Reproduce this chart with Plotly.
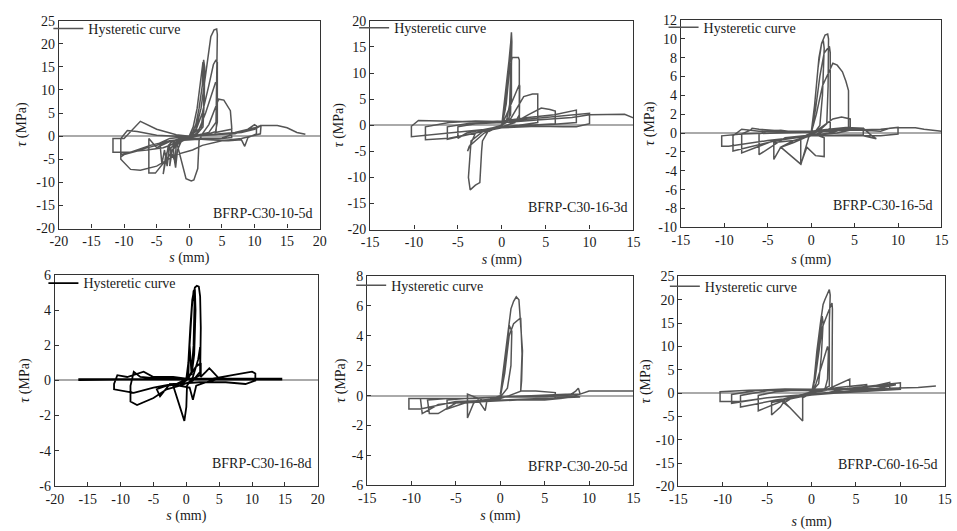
import plotly.graph_objects as go

# ---------------- data (s in mm, tau in MPa) ----------------
labels = ["BFRP-C30-10-5d", "BFRP-C30-16-3d", "BFRP-C30-16-5d",
          "BFRP-C30-16-8d", "BFRP-C30-20-5d", "BFRP-C60-16-5d"]
series_name = "Hysteretic curve"

path1 = [(0,0),(0.5,0.8),(1.0,2.5),(1.5,6),(2.0,11),(2.2,16.5),(2.35,15),(2.3,8),(2.1,2),(1.2,0.5),(0,0),
(-1,-0.3),(-2,-0.8),(-2.5,-1.5),(-2.3,-5),(-2.1,-6.8),(-1.8,-3),(-1.2,-1),(0,0),
(0.6,2),(1.2,6),(1.8,12),(2.1,16),(2.25,13),(2.2,6),(1.8,1.5),(0.8,0.3),(-0.5,-0.3),(-1.5,-1),(-2.8,-2.5),(-3,-6.5),(-2.6,-3),(-1.5,-0.8),(0,0),
(1,1.5),(1.8,6),(2.4,12),(2.9,17.5),(3.3,21.5),(3.8,23),(4.2,23.2),(4.3,22),(4.2,12),(4.1,3),(3,0.8),(1,0.2),(-1,-0.5),
(-2.5,-1),(-3.2,-2),(-4,-8.2),(-3.6,-4),(-3,-2.5),(-2.2,-5.5),(-2,-2),(-1,-0.5),(0,0),
(1,1.2),(2,5),(3,11),(3.7,15.5),(4.1,16.5),(4.3,16),(4.3,5),(4.1,1),(3,0.5),(1,0),(-1,-0.6),(-3,-1.2),(-5,-2.5),(-6.2,-0.5),(-6.2,-8),(-5.2,-8),(-3.5,-5),(-2,-2),(-0.5,-0.5),(0,0),
(1.5,1.5),(2.5,5),(3.5,9.5),(4,11.5),(4.3,11.2),(4.3,3),(4,0.8),(6.5,1.5),(6.5,-0.3),(5,-0.5),(2,-0.6),(0,-0.8),
(-2,-1),(-0.5,-9.2),(0.3,-9.7),(0.7,-9.5),(1.3,-7),(1.5,-1),(2,0.5),(3,2.5),(4.5,8),(5.3,7.8),(6.3,5.5),(6.5,2),(6.5,0.3),(5,-0.4),
(3,-0.5),(0,-0.5),(-2,-1.5),(-4,-2.5),(-6.5,-3),(-8,-3.2),(-10,-4),(-10.5,-4.5),(-10.5,-0.5),(-9.5,1.2),(-8,1),(-5,0.2),(-2,0),
(0,0),(3,0.3),(7,0.5),(9,1.5),(10,2.5),(10.3,2.2),(10.3,0.5),(9,-0.3),(8.5,-2.2),(8,-0.8),(6,-1),(3,-0.8),(0,-0.5),
(-3,-1),(-6,-2),(-9,-3.5),(-11.7,-3.5),(-11.7,-0.5),(-10,-0.5),(-7.5,3.2),(-5,1.5),(-2,0.3),(0,0),
(-3,-0.5),(-4.5,-1.5),(-4.2,-6),(-3.8,-3),(-3.4,-6.5),(-3,-2),(-1,-0.6),(0,0),
(4,0.3),(8,0.8),(10,1.5),(11,2.3),(10.9,0.5),(8,-0.5),(5,-1),(2,-2),(0.5,-3),(-2,-4),(-5,-6.5),(-7.5,-7.4),(-9,-7.2),(-10.5,-5),(-10.5,-4),(-9,-3.5),(-5,-2),(-2,-0.8),(0,0),
(3,0.3),(7,0.8),(10,1.8),(11,2.3),(12.5,2.3),(13.5,2.3),(15,1.8),(16.5,0.8),(17.8,0.4)]

path2 = [(0,0),(0.4,3),(0.7,8),(0.9,13),(1.0,16),(1.1,17.8),(1.15,16),(1.1,8),(1,2),(0.5,0.5),(-0.5,-0.3),(-1,-0.8),(-1.5,-1.2),(-1,-0.5),(0,0),
(0.3,3),(0.7,10),(1.0,15.5),(1.1,14),(1.1,5),(0.8,1),(-0.5,-0.5),(-1.2,-1),(0,0),
(0.2,3),(0.5,8),(0.8,12),(1.0,14.5),(1.05,12),(0.9,4),(0.5,0.5),(0,0),
(0.5,4),(0.9,11),(1.2,13),(1.9,13),(2,12.5),(2,2),(1.5,0.5),(0,-0.3),(-1,-0.8),(-2,-1.5),(-3.7,-4),(-3.9,-5),(-3,-1.5),(-1,-0.5),(0,0),
(0.8,3),(1.5,6),(2,7.8),(2.05,7.5),(2,1),(1,0.3),(0,-0.5),(-2,-1),(-3.5,-3),(-3.8,-10),(-3.6,-12.4),(-3,-11.5),(-2.5,-11),(-2.3,-5),(-2.2,-3),(-1.5,-1),(0,0),
(1,1.2),(2.5,5.5),(3.5,6),(4.1,6),(4.1,3),(4.1,0.5),(2,0),(-1,-0.5),(-4,-1.5),(-5,-2.5),(-5,-0.3),(-3,0.3),(0,0.5),
(2,1),(3,2),(4.5,3.3),(5.5,3),(6.1,2.7),(6.1,0.3),(3,0),(0,-0.3),(-3,-1.5),(-6.2,-2.7),(-6.2,-0.3),(-4,0.3),(-1,0.7),(0,0.8),
(3,1.5),(6,2),(8.5,2.9),(8.5,0.5),(6,0.2),(3,0),(0,-0.5),(-3,-1.5),(-6,-2.5),(-8.7,-2.8),(-8.7,-0.3),(-6,0.5),(-3,0.8),(0,0.7),
(4,1.3),(8,2),(10,2.3),(10,0.3),(8.5,-0.3),(7,-0.3),(4,-0.2),(0,-0.5),(-4,-1.2),(-8,-1.8),(-9.5,-2.2),(-10.3,-2.2),(-10.3,-0.2),(-9.5,0.9),(-7,0.8),(-3,0.6),(0,0.5),
(4,1),(8,1.5),(10,2),(12,2),(14,2.1),(15,1.4)]

path3 = [(0,0),(0.3,2),(0.6,5),(0.9,8),(1.2,9.5),(1.4,9.8),(1.5,9),(1.3,4),(1,0.8),(0.5,0.2),(-0.5,-0.2),(-1,-0.5),(0,0),
(0.4,3),(0.8,7),(1.2,9.5),(1.6,10.4),(1.9,10.5),(2.0,10),(1.95,5),(1.8,1),(1,0.3),(0,-0.2),(-1.2,-0.5),(-1.2,-3.4),(-0.8,-2),(-0.3,-0.5),(0,0),
(0.5,2.5),(1,6),(1.5,8.5),(2.1,9.2),(2.2,8.5),(2.2,4),(2.2,0.5),(1,0),(0,-0.3),(-2,-0.8),(-3.5,-1.5),(-1.2,-3.3),(-0.5,-1.5),(0.5,-2.4),(1.5,-2.5),(1.5,-0.5),(0,0),
(0.6,2),(1.3,5),(2.5,7.4),(3,7.2),(3.6,6.5),(4,5.5),(4.3,4.5),(4.3,1.5),(4.3,0.5),(2,0),(0,-0.3),(-2,-0.8),(-4.3,-1),(-4.3,-2.8),(-3.5,-1.5),(-2,-1),(0,-0.2),
(1,0.5),(2.5,1.5),(3.5,1.7),(4.5,1.5),(4.5,0.3),(3,0),(0,-0.2),(-3,-0.5),(-6,-2.3),(-6,-0.1),(-5,0.2),(-3.5,0.3),(-2,0.1),(0,0.2),
(2,0.4),(4,0.6),(6,0.5),(6,-0.2),(4,-0.2),(0,-0.3),(-4,-0.7),(-8,-2.1),(-8,-0.1),(-7,0.3),(-6.8,0.5),(-6,0.4),(-3,0.2),(0,0.2),
(3,0.4),(6,0.5),(7,-0.3),(7.5,-0.6),(6,-0.3),(3,-0.3),(0,-0.3),(-4,-0.8),(-9,-1.9),(-9,-0.3),(-8,0.4),(-6,0.2),(-3,0.1),(0,0.2),
(3,0.3),(6,0.3),(8,0.2),(9,0.5),(10,0.6),(10,-0.1),(8,-0.3),(4,-0.3),(0,-0.3),(-5,-0.8),(-9.5,-1.4),(-10.3,-1.4),(-10.3,-0.3),(-8,-0.1),(-4,0),(0,0.1),
(4,0.3),(8,0.4),(10,0.6),(11,0.6),(12,0.55),(13,0.4),(14,0.3),(15,0.2)]

path4 = [(0,0.1),(0.3,1),(0.6,3),(0.9,4.6),(1.1,5),(1.25,4.5),(1.1,2),(0.8,0.5),(0.3,0.1),
(0.4,1.5),(0.8,4),(1.1,5.1),(1.3,5.2),(1.4,4),(1.2,1.5),(0.8,0.3),
(0.5,2),(0.9,4.5),(1.3,5.3),(1.6,5.4),(1.9,5.35),(2.1,4.8),(2.2,3),(2.2,1),(2.1,0.3),(1,0.1),(0,0.05),(-1,-0.1),(-2,-0.3),
(-0.3,-2.3),(0,-1.5),(0.1,-0.3),(1,0.2),(1.8,1.2),(2.1,1.9),(2.1,0.5),(1,0),(-1,-0.3),(-2.5,-0.2),(-4,-0.9),(-4.5,-0.5),(-3,-0.3),(-1,-0.2),(0,0),
(1.5,0.8),(2.2,1),(2.2,0.2),(3,0.5),(3.5,0.7),(4,0.5),(5,0.1),(3,-0.1),(1.5,-0.3),(1,-1.1),(0.5,-0.4),(-1,-0.3),(-3,-0.5),(-5,-1),(-7.5,-1.4),(-8.5,-1.2),(-8.5,-0.3),(-8,0.5),(-7,0.2),(-4,0.1),(-1,0.1),(0,0.1),
(4,0.1),(7,0.3),(10,0.5),(10.5,0.4),(10.5,0),(9,-0.2),(6,-0.1),(2,-0.1),(-2,-0.2),(-5,-0.4),(-8,-0.7),(-11,-0.5),(-11,-0.2),(-10.5,0.3),(-9,0.2),(-6.5,0.5),(-5,0.2),(-2,0.2),(0,0.1),
(5,0.1),(10,0.1),(14.6,0.1),(10,0.08),(5,0.08),(0,0.08),(-5,0.08),(-10,0.08),(-16.3,0.08),(-16.3,0.02),(-10,0.05),(0,0.05),(10,0.05),(14.6,0.05)]

path5 = [(0,0.1),(0.4,1.5),(0.8,3.5),(1,4.7),(1.3,4.3),(1.2,2),(0.8,0.5),(0,-0.1),(-1,-0.2),(0,0),
(0.3,1.5),(0.8,4),(1.2,5.8),(1.5,6.3),(1.8,6.6),(2.1,6.4),(2.3,5),(2.5,3),(2.4,1),(2.3,0.3),(1,0),(0,-0.2),(-2,-0.3),(-3.7,0.1),(-3.7,-1.5),(-3,-0.5),(-2.5,-0.3),(-1.7,-1),(-1.5,-0.3),(0,-0.1),
(0.5,1.5),(1,4),(1.5,4.8),(2.3,5.2),(2.45,2.8),(2.3,0.5),(2.3,0.3),(4,0.3),(6.2,0.2),(6.2,-0.2),(4,-0.3),(2,-0.3),(0,-0.3),(-2,-0.4),(-4,-0.5),(-6,-0.9),(-6,-0.3),(-4,-0.2),(0,-0.1),
(4,0),(8,0.1),(8.5,0.3),(8.8,0.5),(9,0.1),(8,-0.1),(5,-0.2),(2,-0.3),(-2,-0.4),(-5,-0.5),(-7,-1.2),(-8,-1.2),(-8.2,-0.3),(-6,-0.2),(-3,-0.2),(0,-0.1),
(4,-0.1),(8,0),(8.5,-0.1),(5,-0.3),(0,-0.3),(-4,-0.4),(-7,-0.6),(-8.8,-1.2),(-9,-0.2),(-7,-0.2),(-3,-0.2),(0,-0.1),
(4,-0.05),(8,0),(9,-0.1),(5,-0.2),(0,-0.3),(-5,-0.4),(-9,-0.9),(-10.3,-0.9),(-10.3,-0.2),(-8,-0.2),(-4,-0.2),(0,-0.1),
(4,0),(8,0.1),(9,0.1),(10,0.3),(12,0.3),(15,0.3)]

path6 = [(0,0),(0.4,3),(0.7,8),(1,13),(1.2,16.5),(1.3,15),(1.1,8),(0.8,2),(0,0.3),(-1,-0.3),(0,0),
(0.3,3),(0.6,9),(1,15),(1.3,19),(1.5,20),(2,22.2),(2.1,21),(2,15),(2,5),(2,1.5),(1,0.5),(0,0),(-1,-0.5),(-1,-6),(-1.5,-5),(-2.5,-3),(-3,-2),(-2,-0.8),(0,0),
(0.4,3),(0.8,9),(1.2,14),(1.8,17),(2.3,19.3),(2.35,18),(2.3,8),(2.3,1),(1.5,0.5),(0,0),(-2,-0.6),(-3.5,-1.5),(-2.5,-3),(-1,-6),(-1,-1),(0,0),
(0.5,2),(1,5),(1.5,8),(1.8,10),(1.9,9),(1.8,3),(1.5,0.8),(0.5,0.3),(2,1),(4.3,3),(4.3,1),(2,0.2),(0,-0.3),(-2,-1),(-4.5,-2),(-4.5,-4.7),(-3.5,-3),(-3,-1.5),(-1,-0.3),(0,0.3),
(3,1.2),(6.2,1.8),(6.2,0.8),(3,0.3),(0,-0.3),(-3,-1.5),(-6,-3.8),(-6,-0.5),(-4,0.3),(-2,0.6),(0,0.5),
(4,1),(7,1.5),(8.8,2.3),(8.8,0.8),(6,0.5),(3,0),(0,-0.4),(-4,-1.5),(-8,-3),(-8,-0.5),(-5,0.5),(-2,0.8),(0,0.8),
(4,1),(8,1.8),(10,2.2),(10,0.8),(7,0.5),(3,0),(0,-0.3),(-5,-1),(-9,-2.2),(-9,-0.3),(-6,0.6),(-3,0.9),(0,0.8),
(4,0.9),(8,1.5),(9.5,1.8),(6,0.5),(0,-0.2),(-5,-1),(-8,-1.8),(-10.3,-1.8),(-10.3,0.3),(-7,0.6),(-3,0.7),(0,0.6),
(4,0.8),(8,1),(10,1),(12,1.2),(14,1.5)]

x_ticks_20 = [-20, -15, -10, -5, 0, 5, 10, 15, 20]
x_ticks_15 = [-15, -10, -5, 0, 5, 10, 15]
y_ticks_25 = [-20, -15, -10, -5, 0, 5, 10, 15, 20, 25]
y_ticks_20 = [-20, -15, -10, -5, 0, 5, 10, 15, 20]
y_ticks_12 = [-10, -8, -6, -4, -2, 0, 2, 4, 6, 8, 10, 12]
y_ticks_6 = [-6, -4, -2, 0, 2, 4, 6]
y_ticks_8 = [-6, -4, -2, 0, 2, 4, 6, 8]

paths = [path1, path2, path3, path4, path5, path6]
xticks = [x_ticks_20, x_ticks_15, x_ticks_15, x_ticks_20, x_ticks_15, x_ticks_15]
yticks = [y_ticks_25, y_ticks_20, y_ticks_12, y_ticks_6, y_ticks_8, y_ticks_25]
line_colors = ["#555555", "#555555", "#555555", "#000000", "#555555", "#555555"]
line_widths = [1.5, 1.5, 1.5, 1.8, 1.5, 1.5]

# ---------------- layout geometry (pixels) ----------------
W, H = 957, 531
boxes = [(50.7, 316, 14, 228), (367.3, 635, 14.3, 229), (683.3, 948.3, 13.3, 226.7),
         (46.7, 314, 276, 492.7), (364.3, 635, 276.7, 492.3), (680.7, 951.7, 277.3, 493.3)]
label_pos = [(311.7, 212), (631.7, 206.7), (941.7, 204), (310, 470), (631.7, 472.7), (946.7, 471)]
legend_text_pos = [(88, 28), (399, 27.3), (713.7, 26.7), (83, 290), (396, 292.3), (715, 293.3)]
x_title_standoff = [3, 4, 7, 4, 4, 9]
y_title_standoff = [6, 0, 0, 6, 2, 1]

FONT = "Liberation Serif"
TXT = "#1a1a1a"

fig = go.Figure()
layout = dict(width=W, height=H, margin=dict(l=0, r=0, t=0, b=0),
              paper_bgcolor="white", plot_bgcolor="white",
              font=dict(family=FONT, size=14, color=TXT))
annotations = []

for i in range(6):
    n = "" if i == 0 else str(i + 1)
    s_vals = [p[0] for p in paths[i]]
    t_vals = [p[1] for p in paths[i]]
    leg = "legend" if i == 0 else f"legend{i+1}"
    fig.add_trace(go.Scatter(x=s_vals, y=t_vals, mode="lines", name=series_name,
                             line=dict(color=line_colors[i], width=line_widths[i]),
                             xaxis="x" + n, yaxis="y" + n, legend=leg, showlegend=True))
    l, r, t, b = boxes[i]
    xt, yt = xticks[i], yticks[i]
    layout["xaxis" + n] = dict(
        domain=[l / W, r / W], anchor="y" + n, range=[xt[0], xt[-1]],
        tickmode="array", tickvals=xt, ticktext=[str(v) for v in xt],
        showline=True, mirror=True, linecolor="#333", linewidth=1.2,
        ticks="inside", ticklen=4, tickcolor="#333", showgrid=False, zeroline=False,
        tickfont=dict(family=FONT, size=14, color=TXT),
        title=dict(text="<i>s</i> (mm)", font=dict(family=FONT, size=14, color=TXT),
                   standoff=x_title_standoff[i]),
    )
    layout["yaxis" + n] = dict(
        domain=[1 - b / H, 1 - t / H], anchor="x" + n, range=[yt[0], yt[-1]],
        tickmode="array", tickvals=yt, ticktext=[str(v) for v in yt],
        showline=True, mirror=True, linecolor="#333", linewidth=1.2,
        ticks="inside", ticklen=4, tickcolor="#333", showgrid=False,
        zeroline=True, zerolinecolor="#aaaaaa", zerolinewidth=1.5,
        tickfont=dict(family=FONT, size=14, color=TXT),
        title=dict(text="<i>τ</i> (MPa)", font=dict(family=FONT, size=14, color=TXT),
                   standoff=y_title_standoff[i]),
    )
    tx, ty = legend_text_pos[i]
    layout[leg] = dict(x=(tx - 48) / W, y=1 - (ty - 22) / H, xanchor="left", yanchor="top",
                       bgcolor="rgba(0,0,0,0)", borderwidth=0,
                       font=dict(family=FONT, size=14, color=TXT))
    lx, ly = label_pos[i]
    annotations.append(dict(text=labels[i], x=lx / W, y=1 - ly / H, xref="paper", yref="paper",
                            xanchor="right", yanchor="middle", showarrow=False,
                            font=dict(family=FONT, size=14, color=TXT)))

layout["annotations"] = annotations
fig.update_layout(**layout)
fig.write_html("out.html")
